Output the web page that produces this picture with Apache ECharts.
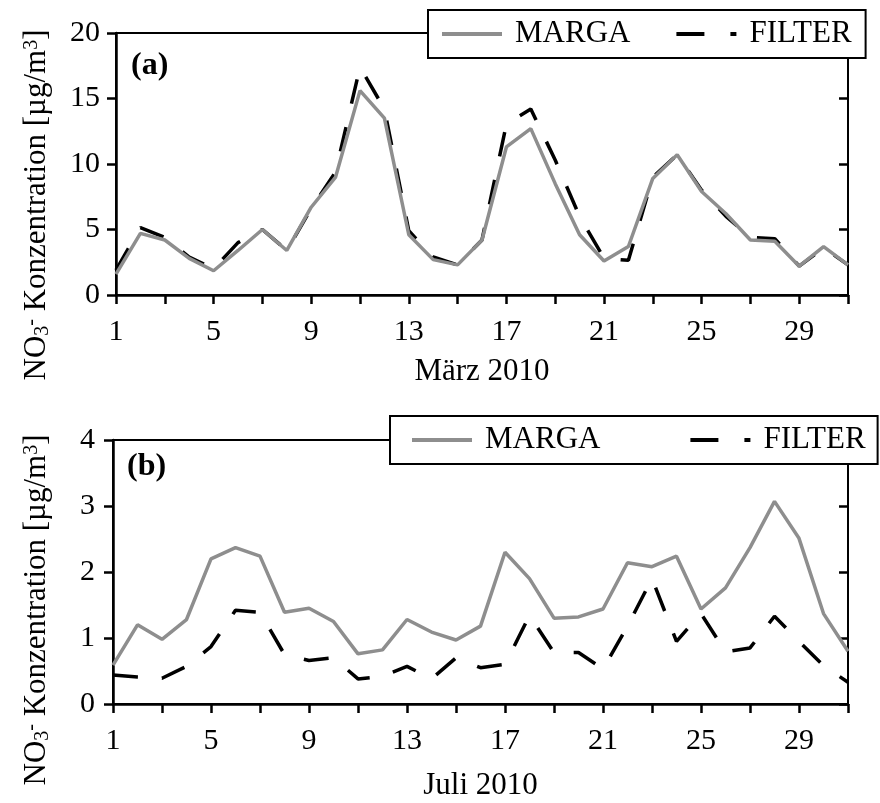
<!DOCTYPE html>
<html><head><meta charset="utf-8">
<script src="https://cdn.jsdelivr.net/npm/echarts@6/dist/echarts.min.js"></script>
<style>html,body{margin:0;padding:0;background:#fff}#c{width:880px;height:803px}</style>
</head><body><div id="c"></div>
<script>
const days = [1,2,3,4,5,6,7,8,9,10,11,12,13,14,15,16,17,18,19,20,21,22,23,24,25,26,27,28,29,30,31];
const marchMarga  = [1.6,4.7,4.2,2.8,1.85,3.4,5.0,3.4,6.7,9.0,15.6,13.5,4.6,2.7,2.3,4.2,11.3,12.7,8.5,4.6,2.6,3.7,8.9,10.7,7.9,6.2,4.2,4.1,2.2,3.7,2.3];
const marchFilter = [1.9,5.15,4.4,2.9,2.0,4.0,5.0,3.4,6.6,9.4,17.4,14.2,4.9,2.9,2.3,4.2,13.05,14.2,10.3,6.0,2.8,2.65,9.0,10.7,8.0,6.0,4.4,4.3,2.2,3.6,2.3];
const julyMarga   = [0.59,1.20,0.98,1.28,2.20,2.37,2.24,1.39,1.45,1.25,0.76,0.82,1.28,1.09,0.97,1.18,2.30,1.90,1.30,1.32,1.44,2.14,2.08,2.24,1.44,1.76,2.37,3.07,2.51,1.37,0.80];
const julyFilter  = [0.44,0.41,0.39,0.57,0.87,1.42,1.39,0.75,0.66,0.70,0.38,0.42,0.57,0.38,0.70,0.55,0.60,1.34,0.78,0.78,0.53,1.18,1.90,0.95,1.37,0.79,0.85,1.33,0.95,0.58,0.33];
const xTickLabels = ['1','5','9','13','17','21','25','29'];
const xTitles = ['März 2010', 'Juli 2010'];
const panelLabels = ['(a)', '(b)'];
const yMaxes = [20, 4];
const ySteps = [5, 1];
const seriesNames = ['MARGA', 'FILTER'];

const FONT = 'Liberation Serif';
const panels = [
  { marga: marchMarga, filter: marchFilter },
  { marga: julyMarga, filter: julyFilter }
];
const grids = [
  { left: 116, top: 33, width: 732, height: 262, show: true, borderColor: '#000', borderWidth: 2 },
  { left: 113, top: 440, width: 735, height: 264, show: true, borderColor: '#000', borderWidth: 2 }
];
const lineW = 2.5;
const xAxes = [], yAxes = [], series = [];
[0, 1].forEach(i => {
  xAxes.push({
    type: 'value', gridIndex: i, min: 1, max: 31, interval: 2,
    axisLine: { show: true, onZero: false, lineStyle: { color: '#000', width: lineW } },
    axisTick: { show: true, length: 9, lineStyle: { color: '#000', width: lineW } },
    splitLine: { show: false },
    axisLabel: { color: '#000', fontFamily: FONT, fontSize: 30, margin: 22,
      formatter: v => xTickLabels.includes(String(v)) ? String(v) : '' },
    name: xTitles[i], nameLocation: 'middle', nameGap: i === 0 ? 61 : 66,
    nameTextStyle: { color: '#000', fontFamily: FONT, fontSize: 31 }
  });
  yAxes.push({
    type: 'value', gridIndex: i, min: 0, max: yMaxes[i], interval: ySteps[i],
    axisLine: { show: true, onZero: false, lineStyle: { color: '#000', width: lineW } },
    axisTick: { show: true, length: 9, lineStyle: { color: '#000', width: lineW } },
    splitLine: { show: false },
    axisLabel: { color: '#000', fontFamily: FONT, fontSize: 30, margin: i === 0 ? 16 : 18 }
  });
});
[0, 1].forEach(i => {
  xAxes.push({
    type: 'value', gridIndex: i, min: 1, max: 31, interval: 2,
    axisLine: { show: false }, splitLine: { show: false }, axisLabel: { show: false },
    axisTick: { show: true, inside: true, length: 9, lineStyle: { color: '#000', width: lineW } }
  });
  yAxes.push({
    type: 'value', gridIndex: i, min: 0, max: yMaxes[i], interval: ySteps[i],
    axisLine: { show: false }, splitLine: { show: false }, axisLabel: { show: false },
    axisTick: { show: true, inside: true, length: 9, lineStyle: { color: '#000', width: lineW } }
  });
});
[0, 1].forEach(i => {
  series.push({
    name: seriesNames[1], type: 'line', xAxisIndex: i, yAxisIndex: i, symbol: 'none', z: 2,
    color: '#000',
    lineStyle: { color: '#000', width: 3.5, type: [25, 24], cap: 'butt' },
    data: days.map((d, k) => [d, panels[i].filter[k]])
  });
  series.push({
    name: seriesNames[0], type: 'line', xAxisIndex: i, yAxisIndex: i, symbol: 'none', z: 3,
    color: '#8e8e8e',
    lineStyle: { color: '#8e8e8e', width: 3.5 },
    data: days.map((d, k) => [d, panels[i].marga[k]])
  });
});
const legendBase = {
  orient: 'horizontal', itemWidth: 60, itemHeight: 16, selectedMode: false,
  backgroundColor: '#fff', borderColor: '#000', borderWidth: 2, borderRadius: 0,
  itemStyle: { opacity: 0 },
  textStyle: { fontFamily: FONT, fontSize: 31, color: '#000', lineHeight: 34, padding: [0, 0, 0, 8] },
  data: [
    { name: seriesNames[0], itemStyle: { opacity: 0 }, lineStyle: { width: 4 } },
    { name: seriesNames[1], itemStyle: { opacity: 0 }, lineStyle: { width: 4, type: [28, 26] } }
  ]
};
const legends = [
  Object.assign({}, legendBase, { left: 428, top: 10, itemGap: 44, padding: [7, 14, 7, 12] }),
  Object.assign({}, legendBase, { left: 390, top: 416, itemGap: 88, padding: [7, 12, 7, 20] })
];
const yName = '{n|NO}{sub|3}{sup|-}{n| Konzentration [µg/m}{sup|3}{n|]}';
const rich = {
  n: { fontFamily: FONT, fontSize: 31, fill: '#000' },
  sub: { fontFamily: FONT, fontSize: 20, fill: '#000', verticalAlign: 'bottom' },
  sup: { fontFamily: FONT, fontSize: 20, fill: '#000', verticalAlign: 'top' }
};
const graphics = [
  { type: 'text', x: 37, y: 205, rotation: Math.PI / 2,
    style: { text: yName, rich: rich, align: 'center', verticalAlign: 'middle', fontFamily: FONT, fontSize: 31, fill: '#000' } },
  { type: 'text', x: 37, y: 610, rotation: Math.PI / 2,
    style: { text: yName, rich: rich, align: 'center', verticalAlign: 'middle', fontFamily: FONT, fontSize: 31, fill: '#000' } },
  { type: 'text', left: 131, top: 50,
    style: { text: panelLabels[0], fontFamily: FONT, fontSize: 32, fontWeight: 'bold', fill: '#000' } },
  { type: 'text', left: 127, top: 451,
    style: { text: panelLabels[1], fontFamily: FONT, fontSize: 32, fontWeight: 'bold', fill: '#000' } }
];
const chart = echarts.init(document.getElementById('c'), null, { renderer: 'canvas' });
chart.setOption({
  animation: false,
  backgroundColor: '#fff',
  grid: grids, xAxis: xAxes, yAxis: yAxes, series: series,
  legend: legends, graphic: graphics
});
</script></body></html>
